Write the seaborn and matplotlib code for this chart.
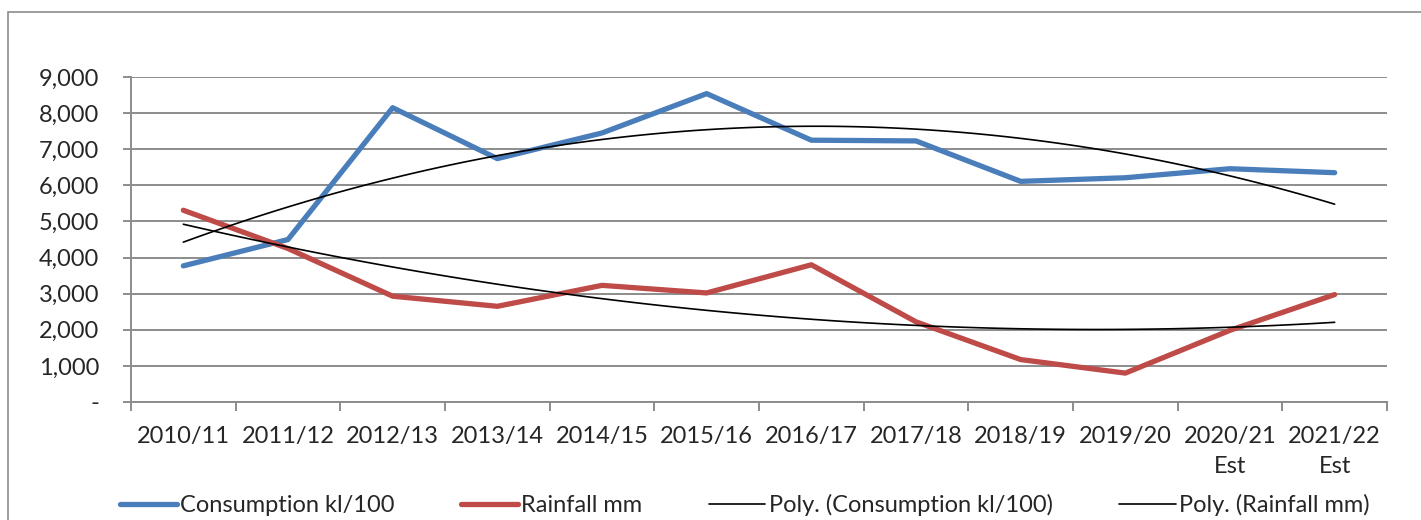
import numpy as np
import pandas as pd
import seaborn as sns
import matplotlib.pyplot as plt
from matplotlib.ticker import FuncFormatter, FixedLocator
from matplotlib.patches import Rectangle
from matplotlib.lines import Line2D

# data
seasons = ['2010/11', '2011/12', '2012/13', '2013/14', '2014/15', '2015/16',
           '2016/17', '2017/18', '2018/19', '2019/20', '2020/21\nEst', '2021/22\nEst']
consumption = [3770, 4500, 8150, 6740, 7450, 8540, 7250, 7230, 6110, 6210, 6460, 6350]
rainfall = [5310, 4250, 2930, 2650, 3230, 3020, 3800, 2220, 1175, 800, 1985, 2975]

blue = '#4A7EBB'
red = '#BE4B48'
grid_grey = '#8C8C8C'

sns.set_style('white')
plt.rcParams['font.family'] = ['Lato', 'DejaVu Sans']

df = pd.DataFrame({'idx': np.arange(len(seasons)),
                   'Consumption kl/100': consumption,
                   'Rainfall mm': rainfall})

fig = plt.figure(figsize=(14.21, 5.2), dpi=100)
ax = fig.add_axes([131 / 1421, 1 - 402 / 520, (1387 - 131) / 1421, (402 - 77) / 520])

# outer chart frame (only left + top visible)
fig.patches.append(Rectangle((8 / 1421, -0.2), 1.2, 1.2 - 12 / 520,
                             transform=fig.transFigure, fill=False,
                             edgecolor='#8C8C8C', linewidth=1.2, zorder=0))

sns.lineplot(data=df, x='idx', y='Consumption kl/100', ax=ax, color=blue,
             linewidth=3.8, solid_capstyle='round', solid_joinstyle='round', zorder=3)
sns.lineplot(data=df, x='idx', y='Rainfall mm', ax=ax, color=red,
             linewidth=3.8, solid_capstyle='round', solid_joinstyle='round', zorder=3)

# polynomial (order 2) trendlines like Excel
sns.regplot(data=df, x='idx', y='Consumption kl/100', ax=ax, order=2, ci=None,
            scatter=False, truncate=True, line_kws={'color': 'black', 'linewidth': 1.2, 'zorder': 4})
sns.regplot(data=df, x='idx', y='Rainfall mm', ax=ax, order=2, ci=None,
            scatter=False, truncate=True, line_kws={'color': 'black', 'linewidth': 1.2, 'zorder': 4})

ax.set_xlim(-0.5, len(seasons) - 0.5)
ax.set_ylim(0, 9000)
ax.set_xlabel('')
ax.set_ylabel('')

ax.set_yticks(np.arange(0, 9001, 1000))
ax.yaxis.set_major_formatter(FuncFormatter(lambda v, p: '-' if v == 0 else f'{int(v):,}'))
ax.yaxis.grid(True, color=grid_grey, linewidth=1.4)
ax.set_axisbelow(True)

ax.xaxis.set_major_locator(FixedLocator(np.arange(-0.5, len(seasons), 1.0)))
ax.xaxis.set_major_formatter(FuncFormatter(lambda v, p: ''))
ax.xaxis.set_minor_locator(FixedLocator(np.arange(len(seasons))))
ax.set_xticklabels(seasons, minor=True)
for lab in ax.get_xticklabels(minor=True):
    lab.set_linespacing(1.55)
ax.tick_params(axis='x', which='minor', length=0, pad=17, labelsize=17)
ax.tick_params(axis='x', which='major', direction='out', length=6.5, width=1.4,
               color=grid_grey, bottom=True)
ax.tick_params(axis='y', direction='out', length=6, width=1.4, color=grid_grey,
               left=True, pad=17, labelsize=17)

for s in ['top', 'right']:
    ax.spines[s].set_visible(False)
for s in ['left', 'bottom']:
    ax.spines[s].set_color(grid_grey)
    ax.spines[s].set_linewidth(1.4)

handles = [Line2D([], [], color=blue, linewidth=3.8, solid_capstyle='round'),
           Line2D([], [], color=red, linewidth=3.8, solid_capstyle='round'),
           Line2D([], [], color='black', linewidth=1.2),
           Line2D([], [], color='black', linewidth=1.2)]
labels = ['Consumption kl/100', 'Rainfall mm',
          'Poly. (Consumption kl/100)', 'Poly. (Rainfall mm)']
fig.legend(handles, labels, loc='center', bbox_to_anchor=(745 / 1421, 1 - 505 / 520),
           ncol=4, frameon=False, fontsize=17, handlelength=2.4,
           handletextpad=0.15, columnspacing=2.8, borderaxespad=0, borderpad=0)

fig.savefig('out.png', dpi=100)
